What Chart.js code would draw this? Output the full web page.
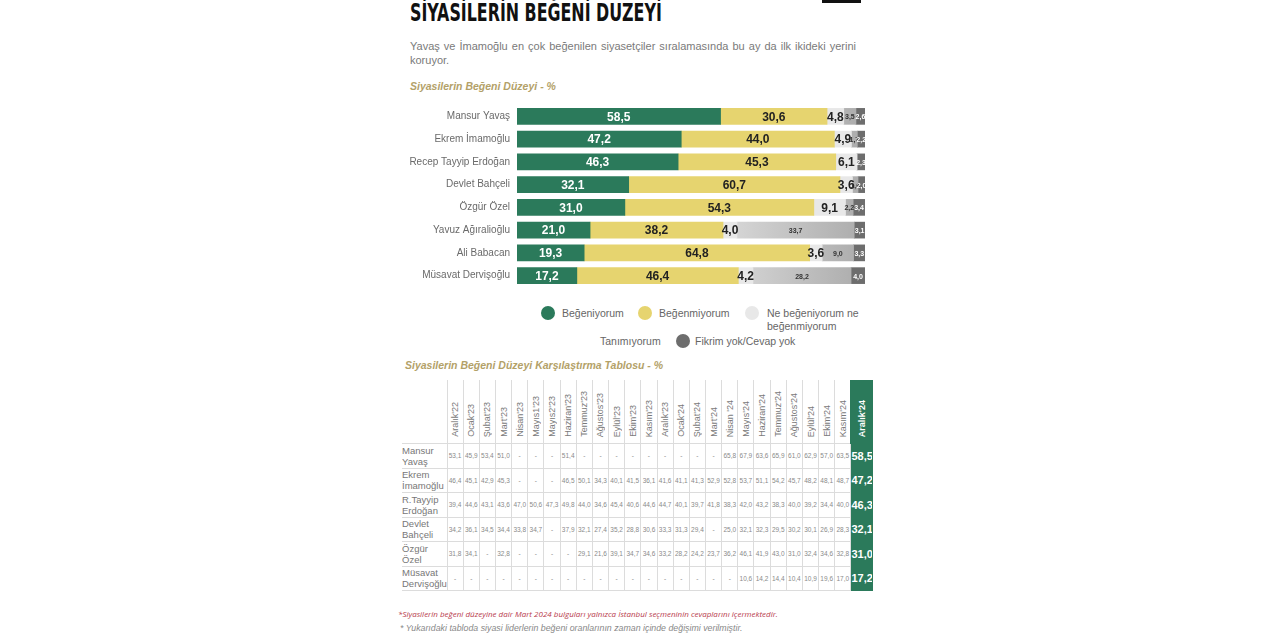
<!DOCTYPE html>
<html>
<head>
<meta charset="utf-8">
<script src="https://cdn.jsdelivr.net/npm/chart.js@4.4.1/dist/chart.umd.min.js"></script>
<style>
  html, body { margin: 0; padding: 0; background: #fff; }
  body { width: 1280px; height: 640px; position: relative; overflow: hidden; font-family: "Liberation Sans", Arial, sans-serif; }
  .abs { position: absolute; }
  #topmark { left: 822px; top: 0; width: 39px; height: 3px; background: #111; }
  #title { left: 410px; top: -1px; font-family: "DejaVu Sans Condensed", "DejaVu Sans", sans-serif; font-weight: bold; font-size: 24px; color: #111; transform-origin: left top; white-space: nowrap; }
  #sub { left: 410px; top: 39px; width: 446px; font-size: 11px; line-height: 14px; color: #7a7a7a; text-align: justify; }
  .sect { font-style: italic; font-weight: bold; font-size: 10.5px; color: #b3a168; }
  #chartBox { left: 400px; top: 92px; width: 465px; height: 208px; }
  .lg { position: absolute; font-size: 10.5px; color: #666; line-height: 13px; }
  .dot { position: absolute; width: 14px; height: 14px; border-radius: 50%; }
  #tbl { position: absolute; left: 402px; top: 380px; border-collapse: collapse; table-layout: fixed; width: 471px; }
  #tbl td, #tbl th { padding: 0; text-align: center; overflow: hidden; }
  #tbl th { height: 59px; vertical-align: bottom; font-weight: normal; font-size: 9px; color: #7a7a7a; border-left: 1px solid #dcdcdc; padding-bottom: 4px; }
  #tbl th.first { border-left: none; }
  #tbl th .vt { display: inline-block; writing-mode: vertical-rl; transform: rotate(180deg); white-space: nowrap; }
  #tbl td { height: 23.5px; font-size: 6.5px; color: #8a8a8a; border: 1px solid #dcdcdc; white-space: nowrap; }
  #tbl td.name { text-align: left; font-size: 9.5px; line-height: 11px; color: #777; border-left: none; white-space: normal; }
  #tbl .last { background: #2b7a5b; color: #fff; font-weight: bold; font-size: 11px; border-color: #2b7a5b; }
  #tbl th.last { font-size: 9px; color: #fff; }
  .note { position: absolute; font-style: italic; }
</style>
</head>
<body>
<div id="topmark" class="abs"></div>
<div id="title" class="abs">SİYASİLERİN BEĞENİ DÜZEYİ</div>
<div id="sub" class="abs">Yavaş ve İmamoğlu en çok beğenilen siyasetçiler sıralamasında bu ay da ilk ikideki yerini koruyor.</div>
<div class="abs sect" style="left:410px; top:80px;">Siyasilerin Beğeni Düzeyi - %</div>
<div id="chartBox" class="abs"><canvas id="barChart"></canvas></div>
<div id="legend"></div>
<div class="abs sect" style="left:405px; top:359px;">Siyasilerin Beğeni Düzeyi Karşılaştırma Tablosu - %</div>
<table id="tbl"></table>
<div class="note" style="left:398px; top:608px; color:#b83a4b; font-family:'Open Sans', sans-serif; font-size:8px;">*Siyasilerin beğeni düzeyine dair Mart 2024 bulguları yalnızca İstanbul seçmeninin cevaplarını içermektedir.</div>
<div class="note" style="left:400px; top:623px; color:#888; font-size:8.8px;">* Yukarıdaki tabloda siyasi liderlerin beğeni oranlarının zaman içinde değişimi verilmiştir.</div>

<script>
// --- bar chart data ---
const politicians = ['Mansur Yavaş', 'Ekrem İmamoğlu', 'Recep Tayyip Erdoğan', 'Devlet Bahçeli', 'Özgür Özel', 'Yavuz Ağıralioğlu', 'Ali Babacan', 'Müsavat Dervişoğlu'];
const likeVals    = [58.5, 47.2, 46.3, 32.1, 31.0, 21.0, 19.3, 17.2];
const dislikeVals = [30.6, 44.0, 45.3, 60.7, 54.3, 38.2, 64.8, 46.4];
const neutralVals = [4.8, 4.9, 6.1, 3.6, 9.1, 4.0, 3.6, 4.2];
const unknownVals = [3.5, 1.7, 0, 1.6, 2.2, 33.7, 9.0, 28.2];
const noIdeaVals  = [2.6, 2.2, 2.3, 2.0, 3.4, 3.1, 3.3, 4.0];
const seriesNames = ['Beğeniyorum', 'Beğenmiyorum', 'Ne beğeniyorum ne beğenmiyorum', 'Tanımıyorum', 'Fikrim yok/Cevap yok'];
const seriesColors = ['#2b7a5b', '#e6d46f', '#e8e8e8', '#bcbcbc', '#6d6d6d'];

// --- comparison table data ---
const months = ["Aralık'22", "Ocak'23", "Şubat'23", "Mart'23", "Nisan'23", "Mayıs1'23", "Mayıs2'23", "Haziran'23", "Temmuz'23", "Ağustos'23", "Eylül'23", "Ekim'23", "Kasım'23", "Aralık'23", "Ocak'24", "Şubat'24", "Mart'24", "Nisan '24", "Mayıs'24", "Haziran'24", "Temmuz'24", "Ağustos'24", "Eylül'24", "Ekim'24", "Kasım'24", "Aralık'24"];
const tableNames = [['Mansur', 'Yavaş'], ['Ekrem', 'İmamoğlu'], ['R.Tayyip', 'Erdoğan'], ['Devlet', 'Bahçeli'], ['Özgür', 'Özel'], ['Müsavat', 'Dervişoğlu']];
const yavasRow    = [53.1, 45.9, 53.4, 51.0, null, null, null, 51.4, null, null, null, null, null, null, null, null, null, 65.8, 67.9, 63.6, 65.9, 61.0, 62.9, 57.0, 63.5, 58.5];
const imamogluRow = [46.4, 45.1, 42.9, 45.3, null, null, null, 46.5, 50.1, 34.3, 40.1, 41.5, 36.1, 41.6, 41.1, 41.3, 52.9, 52.8, 53.7, 51.1, 54.2, 45.7, 48.2, 48.1, 48.7, 47.2];
const erdoganRow  = [39.4, 44.6, 43.1, 43.6, 47.0, 50.6, 47.3, 49.8, 44.0, 34.6, 45.4, 40.6, 44.6, 44.7, 40.1, 39.7, 41.8, 38.3, 42.0, 43.2, 38.3, 40.0, 39.2, 34.4, 40.0, 46.3];
const bahceliRow  = [34.2, 36.1, 34.5, 34.4, 33.8, 34.7, null, 37.9, 32.1, 27.4, 35.2, 28.8, 30.6, 33.3, 31.3, 29.4, null, 25.0, 32.1, 32.3, 29.5, 30.2, 30.1, 26.9, 28.3, 32.1];
const ozelRow     = [31.8, 34.1, null, 32.8, null, null, null, null, 29.1, 21.6, 39.1, 34.7, 34.6, 33.2, 28.2, 24.2, 23.7, 36.2, 46.1, 41.9, 43.0, 31.0, 32.4, 34.6, 32.8, 31.0];
const dervisogluRow = [null, null, null, null, null, null, null, null, null, null, null, null, null, null, null, null, null, null, 10.6, 14.2, 14.4, 10.4, 10.9, 19.6, 17.0, 17.2];
const tableRows = [yavasRow, imamogluRow, erdoganRow, bahceliRow, ozelRow, dervisogluRow];

const fmt = (v) => v.toFixed(1).replace('.', ',');

// squeeze the title to the condensed width of the original
const title = document.getElementById('title');
title.style.transform = `scaleX(${252 / title.offsetWidth})`;

// label style per series
const bigFont = 'bold 12px "Liberation Sans", Arial, sans-serif';
const smallFont = 'bold 7px "Liberation Sans", Arial, sans-serif';
const labelStyles = [
  { font: bigFont, color: '#ffffff' },
  { font: bigFont, color: '#222222' },
  { font: bigFont, color: '#222222' },
  { font: smallFont, color: '#333333' },
  { font: smallFont, color: '#ffffff' }
];

const segLabels = {
  id: 'segLabels',
  afterDatasetsDraw(chart) {
    const ctx = chart.ctx;
    ctx.save();
    ctx.textAlign = 'center';
    ctx.textBaseline = 'middle';
    chart.data.datasets.forEach((ds, i) => {
      const meta = chart.getDatasetMeta(i);
      meta.data.forEach((bar, j) => {
        const v = ds.data[j];
        if (!v) return;
        ctx.font = labelStyles[i].font;
        ctx.fillStyle = labelStyles[i].color;
        ctx.fillText(fmt(v), (bar.base + bar.x) / 2, bar.y + 1);
      });
    });
    ctx.restore();
  }
};

// soft grey fade used by the "Tanımıyorum" segments
const unknownFill = (context) => {
  const area = context.chart.chartArea;
  if (!area) return seriesColors[3];
  const g = context.chart.ctx.createLinearGradient(area.left + area.width * 0.6, 0, area.right, 0);
  g.addColorStop(0, '#d8d8d8');
  g.addColorStop(1, '#ababab');
  return g;
};

const allSeries = [likeVals, dislikeVals, neutralVals, unknownVals, noIdeaVals];

new Chart(document.getElementById('barChart'), {
  type: 'bar',
  data: {
    labels: politicians,
    datasets: allSeries.map((vals, i) => ({
      label: seriesNames[i],
      data: vals,
      backgroundColor: i === 3 ? unknownFill : seriesColors[i],
      borderWidth: 0,
      barThickness: 16
    }))
  },
  options: {
    indexAxis: 'y',
    responsive: true,
    maintainAspectRatio: false,
    animation: false,
    layout: { padding: 0 },
    plugins: { legend: { display: false }, tooltip: { enabled: false } },
    scales: {
      x: { stacked: true, min: 0, max: 100, display: false },
      y: {
        stacked: true,
        grid: { display: false, drawTicks: false },
        border: { display: false },
        ticks: { color: '#6a6a6a', font: { family: '"Liberation Sans", Arial, sans-serif', size: 10 }, padding: 7 },
        afterFit: (s) => { s.width = 117; }
      }
    }
  },
  plugins: [segLabels]
});

// legend
const legendItems = [
  { c: seriesColors[0], x: 541, y: 306, tx: 562, ty: 307, t: 'Beğeniyorum' },
  { c: seriesColors[1], x: 638, y: 306, tx: 659, ty: 307, t: 'Beğenmiyorum' },
  { c: seriesColors[2], x: 745, y: 306, tx: 767, ty: 307, t: 'Ne beğeniyorum ne<br>beğenmiyorum' },
  { c: null, x: 0, y: 0, tx: 600, ty: 335, t: 'Tanımıyorum' },
  { c: seriesColors[4], x: 676, y: 334, tx: 695, ty: 335, t: 'Fikrim yok/Cevap yok' }
];
const lg = document.getElementById('legend');
legendItems.forEach((it) => {
  if (it.c) {
    const d = document.createElement('div');
    d.className = 'dot';
    d.style.left = it.x + 'px'; d.style.top = it.y + 'px'; d.style.background = it.c;
    lg.appendChild(d);
  }
  const s = document.createElement('div');
  s.className = 'lg';
  s.style.left = it.tx + 'px'; s.style.top = it.ty + 'px';
  s.innerHTML = it.t;
  lg.appendChild(s);
});

// table
const tbl = document.getElementById('tbl');
let html = '<colgroup><col style="width:45px">';
for (let i = 0; i < months.length - 1; i++) html += '<col style="width:16.16px">';
html += '<col style="width:22px"></colgroup><tr><th class="first"></th>';
months.forEach((m, i) => {
  const cls = i === months.length - 1 ? ' class="last"' : '';
  html += `<th${cls}><span class="vt">${m}</span></th>`;
});
html += '</tr>';
tableRows.forEach((row, r) => {
  html += `<tr><td class="name">${tableNames[r][0]}<br>${tableNames[r][1]}</td>`;
  row.forEach((v, i) => {
    const cls = i === row.length - 1 ? ' class="last"' : '';
    html += `<td${cls}>${v === null ? '-' : fmt(v)}</td>`;
  });
  html += '</tr>';
});
tbl.innerHTML = html;
</script>
</body>
</html>
